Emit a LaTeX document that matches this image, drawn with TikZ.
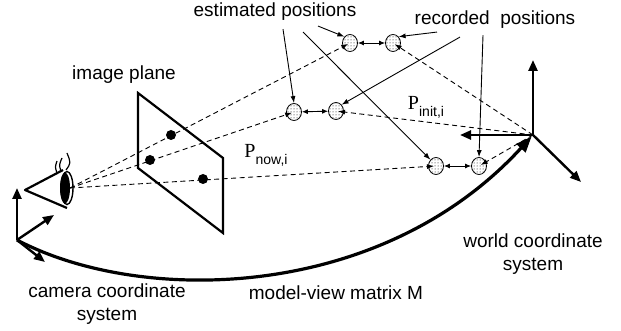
\documentclass[tikz,border=0pt]{standalone}
\usepackage{fontspec}
\setmainfont{Liberation Sans}
\newfontfamily\pfont{Liberation Serif}
\usetikzlibrary{positioning, arrows.meta, shapes.geometric, patterns}
\tikzset{
    txt/.style = {
        font=\fontsize{19}{23}\selectfont,
        align=center,
        inner sep=0pt
    },
    posmark/.style = {
        ellipse,
        draw,
        line width=0.8pt,
        fill=white,
        postaction={pattern=dots},
        minimum width=15pt,
        minimum height=17pt,
        inner sep=0pt
    },
    imgdot/.style  = {circle, fill, minimum size=10pt, inner sep=0pt},
    frame/.style   = {line width=2.2pt, line join=miter},
    axis/.style    = {-{Triangle[length=11pt, width=9pt]}, line width=2.4pt},
    ray/.style     = {dash pattern=on 5pt off 3.5pt, line width=0.9pt, -{Latex[length=7pt, width=5pt]}, shorten >=2pt},
    pointer/.style = {-{Latex[length=7pt, width=5pt]}, line width=0.9pt},
    pairarrow/.style = {{Latex[length=6pt, width=5pt]}-{Latex[length=6pt, width=5pt]}, line width=0.9pt}
}

\begin{document}
\begin{tikzpicture}[x=1pt, y=-1pt]
\useasboundingbox (0,0) rectangle (621,331);

% Camera coordinate system
\coordinate (cam) at (17,240);
\coordinate (camY) at (17,188);
\coordinate (camX) at (54,215);
\coordinate (camZ) at (45,262);

% World coordinate system
\coordinate (wo) at (533,135);
\coordinate (woY) at (533,60);
\coordinate (woX) at (460,135);
\coordinate (woZ) at (581,182);

% Eye: cone, eyeball, lashes
\draw[frame, line join=round] (63,170) -- (25,190) -- (67,208);
\node[ellipse, draw, line width=1.4pt, minimum width=12pt, minimum height=33pt, inner sep=0pt] (ball) at (67,188) {};
\node[ellipse, fill, minimum width=10pt, minimum height=31pt, inner sep=0pt] (eye) at (65,188) {};
\draw[line width=1.2pt] (57,173) .. controls (55,167) .. (57,161);
\draw[line width=1.2pt] (61,171) .. controls (59,165) .. (62,158);
\draw[line width=1.2pt] (66,170) .. controls (71,163) .. (67,153);
\coordinate (pupil) at (70,188);

% Image plane
\draw[frame] (138,93) -- (223,158) -- (223,233) -- (138,168) -- cycle;
\node[imgdot] (d1) at (171,135) {};
\node[imgdot] (d2) at (150,160) {};
\node[imgdot] (d3) at (203,179) {};

% Estimated and recorded positions
\node[posmark] (estT) at (350,43) {};
\node[posmark] (recT) at (393,43) {};
\node[posmark] (estM) at (294,112) {};
\node[posmark] (recM) at (336,111) {};
\node[posmark] (estB) at (436,166) {};
\node[posmark] (recB) at (479,166) {};

\draw[pairarrow] (estT) -- (recT);
\draw[pairarrow] (estM) -- (recM);
\draw[pairarrow] (estB) -- (recB);

% Rays through the image plane
\draw[ray] (pupil) -- (estT.center);
\draw[ray] (pupil) -- (estM.center);
\draw[ray] (pupil) -- (estB.center);

% Rays from the world origin
\draw[ray] (wo) -- (recT.center);
\draw[ray] (wo) -- (recM.center);
\draw[ray] (wo) -- (recB.center);

% Model-view transform
\draw[line width=3.2pt, -{Triangle[length=16pt, width=12pt]}, shorten >=2pt]
    (cam) .. controls (140,305) and (380,302) .. (wo);

\draw[axis] (cam) -- (camY);
\draw[axis] (cam) -- (camX);
\draw[axis] (cam) -- (camZ);
\draw[axis] (wo) -- (woY);
\draw[axis] (wo) -- (woX);
\draw[axis] (wo) -- (woZ);

% Labels
\node[txt] (est) at (275,12) {estimated positions};
\node[txt] (rec) at (495,20) {recorded\ \ positions};
\node[txt] (imgl) at (124,75) {image plane};
\node[txt] (caml) at (107,304) {camera coordinate\\system};
\node[txt] (mvl) at (336,293) {model-view matrix M};
\node[txt] (wcl) at (533,254) {world coordinate\\system};

\node[inner sep=0pt] (pnow) at (266,155)
    {\fontsize{20}{20}\pfont P\raisebox{-7pt}{\fontsize{14}{14}\rmfamily now,i}};
\node[inner sep=0pt] (pinit) at (426,107)
    {\fontsize{20}{20}\pfont P\raisebox{-7pt}{\fontsize{14}{14}\rmfamily init,i}};

% Pointers
\draw[pointer] ([xshift=8pt, yshift=-8pt]est.south) -- (estM.north);
\draw[pointer] ([xshift=28pt, yshift=-11pt]est.south) -- (estB.north west);
\draw[pointer] ([xshift=43pt, yshift=-5pt]est.south) -- (estT.north west);
\draw[pointer] ([xshift=-58pt, yshift=-3pt]rec.south) -- (recT.north east);
\draw[pointer] ([xshift=-35pt, yshift=-8pt]rec.south) -- (recM.north east);
\draw[pointer] ([xshift=-12pt, yshift=-6pt]rec.south) -- (recB.north);

\end{tikzpicture}
\end{document}
